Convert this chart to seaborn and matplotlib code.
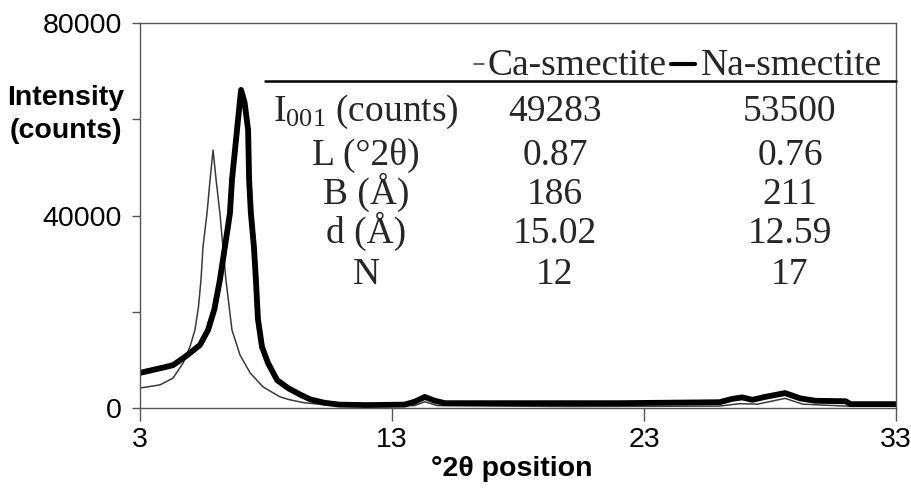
import matplotlib
matplotlib.use("Agg")
import matplotlib.pyplot as plt
from matplotlib.lines import Line2D
import pandas as pd
import seaborn as sns

# ---- data ----
two_theta_na = [3.0, 3.5, 4.0, 4.31, 4.7, 4.98, 5.38, 5.70, 5.95, 6.17, 6.37, 6.57, 6.65, 6.85,
                7.01, 7.15, 7.29, 7.33, 7.40, 7.52, 7.60, 7.68, 7.84, 8.08, 8.44, 8.87, 9.1,
                9.35, 9.75, 10.3, 10.9, 12.0, 13.5, 13.9, 14.3, 14.7, 15.1, 18.0, 22.0, 26.0,
                26.5, 26.9, 27.3, 27.8, 28.6, 29.2, 29.8, 31.0, 31.2, 33.0]
intensity_na = [7300, 7900, 8500, 8900, 10300, 11400, 13100, 16200, 20500, 26600, 33500, 40500,
                47400, 57800, 66100, 63500, 57800, 47400, 40500, 33500, 26600, 18500, 12700, 9350,
                5800, 4150, 3500, 2800, 1800, 1100, 700, 600, 700, 1300, 2300, 1500, 1000, 1000,
                1000, 1200, 1900, 2200, 1700, 2300, 3100, 2000, 1500, 1400, 800, 800]

two_theta_ca = [3.0, 3.79, 4.31, 4.71, 4.98, 5.18, 5.32, 5.42, 5.50, 5.66, 5.78, 5.90, 6.02,
                6.17, 6.29, 6.41, 6.65, 6.97, 7.37, 7.88, 8.56, 8.95, 9.5, 10.5, 12.0, 13.9,
                14.3, 14.8, 20.0, 26.0, 26.8, 27.5, 28.6, 29.3, 31.0, 33.0]
intensity_ca = [4150, 4800, 6200, 9350, 12700, 16200, 21000, 26600, 33500, 40500, 47400, 53600,
                47400, 40500, 33500, 26600, 16200, 11000, 7300, 4400, 2300, 1700, 1100, 600, 400,
                500, 1300, 500, 300, 400, 900, 800, 2000, 800, 400, 400]

series_names = ["Ca-smectite", "Na-smectite"]
row_labels = [r"$\mathrm{I}_{001}$ (counts)", "L (°2θ)", "B (Å)", "d (Å)", "N"]
ca_values = ["49283", "0.87", "186", "15.02", "12"]
na_values = ["53500", "0.76", "211", "12.59", "17"]

x_ticks = [3, 13, 23, 33]
y_ticks = [0, 20000, 40000, 60000, 80000]
y_tick_labels = ["0", "", "40000", "", "80000"]

df = pd.concat([
    pd.DataFrame({"theta": two_theta_ca, "intensity": intensity_ca, "sample": series_names[0]}),
    pd.DataFrame({"theta": two_theta_na, "intensity": intensity_na, "sample": series_names[1]}),
])

sns.set_theme(style="white")
plt.rcParams["font.family"] = ["Liberation Sans", "DejaVu Sans"]
plt.rcParams["mathtext.fontset"] = "custom"
plt.rcParams["mathtext.rm"] = "Liberation Serif"
plt.rcParams["mathtext.it"] = "Liberation Serif:italic"

W, H = 912, 488
fig = plt.figure(figsize=(W / 100, H / 100), dpi=100)
ax = fig.add_axes([140 / W, 1 - 408 / H, (896 - 140) / W, (408 - 23) / H])

sns.lineplot(data=df[df["sample"] == series_names[0]], x="theta", y="intensity",
             color="#3a3a3a", linewidth=1.1, ax=ax, sort=False, estimator=None)
sns.lineplot(data=df[df["sample"] == series_names[1]], x="theta", y="intensity",
             color="black", linewidth=4.2, ax=ax, sort=False, estimator=None,
             solid_joinstyle="round")

ax.set_xlim(3, 33)
ax.set_ylim(0, 80000)
ax.set_xticks(x_ticks)
ax.set_xticklabels([str(t) for t in x_ticks])
ax.set_yticks(y_ticks)
ax.set_yticklabels(y_tick_labels)

for s in ax.spines.values():
    s.set_color("#555555")
    s.set_linewidth(1.0)

fs = 20.5
ax.tick_params(axis="x", direction="out", length=9, width=1.0, color="#555555",
               pad=5, labelsize=fs, labelcolor="black", bottom=True)
ax.tick_params(axis="y", direction="out", length=6, width=1.0, color="#555555",
               pad=7, labelsize=fs, labelcolor="black", left=True)

ax.set_xlabel("°2θ position", fontsize=fs, fontweight="bold", color="black")
ax.xaxis.set_label_coords((512 - 140) / 756, (408 - 469) / 385)
ax.xaxis.label.set_va("center")
ax.set_ylabel("Intensity\n(counts)", fontsize=fs, fontweight="bold", rotation=0,
              color="black", linespacing=1.35)
ax.yaxis.set_label_coords((66 - 140) / 756, (408 - 114) / 385)
ax.yaxis.label.set_va("center")
ax.yaxis.label.set_ha("center")

# ---- table inside the plot ----
def fx(px):
    return px / W

def fy(py):
    return 1 - py / H

serif = ["Liberation Serif", "DejaVu Serif"]
tsize = 27
# legend samples in the header
fig.add_artist(Line2D([fx(474), fx(484)], [fy(64), fy(64)], color="#333333", linewidth=1.1))
fig.add_artist(Line2D([fx(671), fx(695)], [fy(64), fy(64)], color="black", linewidth=3.0))
fig.text(fx(488), fy(75), series_names[0], family=serif, fontsize=tsize,
         ha="left", va="baseline")
fig.text(fx(701), fy(75), series_names[1], family=serif, fontsize=tsize,
         ha="left", va="baseline")
fig.add_artist(Line2D([fx(265), fx(896)], [fy(81), fy(81)], color="black", linewidth=1.8))

row_baselines = [121, 165, 204, 243, 284]
for lab, cv, nv, yb in zip(row_labels, ca_values, na_values, row_baselines):
    fig.text(fx(366), fy(yb), lab, family=serif, fontsize=tsize, ha="center", va="baseline")
    fig.text(fx(555), fy(yb), cv, family=serif, fontsize=tsize, ha="center", va="baseline")
    fig.text(fx(790), fy(yb), nv, family=serif, fontsize=tsize, ha="center", va="baseline")

fig.savefig("out.png", dpi=100)
